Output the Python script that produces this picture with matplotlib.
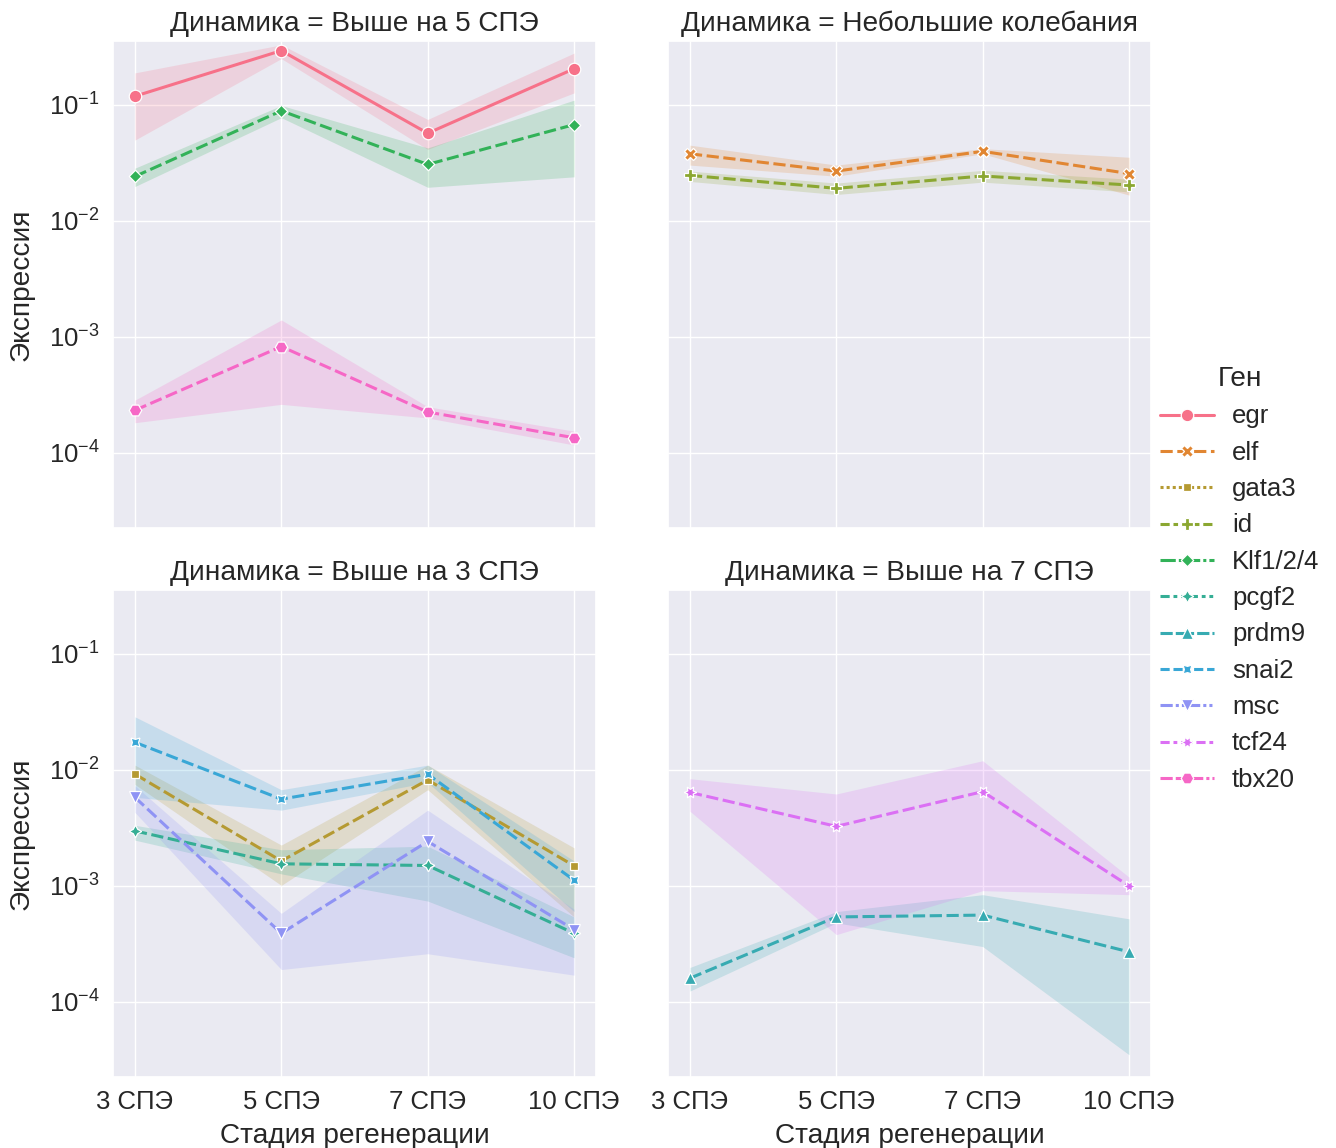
import matplotlib
matplotlib.use("Agg")
import matplotlib.pyplot as plt
from matplotlib.lines import Line2D
import seaborn as sns

sns.set_theme(style="darkgrid")
plt.rcParams["font.family"] = ["Liberation Sans", "DejaVu Sans"]

# Stages of regeneration (x categories)
stages = ["3 СПЭ", "5 СПЭ", "7 СПЭ", "10 СПЭ"]

# Genes in legend order
genes = ["egr", "elf", "gata3", "id", "Klf1/2/4", "pcgf2", "prdm9",
         "snai2", "msc", "tcf24", "tbx20"]

# Facet panels and the genes each one shows
panels = ["Выше на 5 СПЭ", "Небольшие колебания", "Выше на 3 СПЭ", "Выше на 7 СПЭ"]
panel_genes = {
    "Выше на 5 СПЭ": ["egr", "Klf1/2/4", "tbx20"],
    "Небольшие колебания": ["elf", "id"],
    "Выше на 3 СПЭ": ["gata3", "pcgf2", "snai2", "msc"],
    "Выше на 7 СПЭ": ["prdm9", "tcf24"],
}

# Mean expression per stage
egr_mean = [0.119, 0.294, 0.057, 0.205]
elf_mean = [0.0379, 0.0269, 0.0398, 0.0256]
gata3_mean = [0.0092, 0.00164, 0.0082, 0.00149]
id_mean = [0.0247, 0.0191, 0.0244, 0.0204]
klf_mean = [0.0242, 0.089, 0.0307, 0.0677]
pcgf2_mean = [0.00298, 0.00155, 0.0015, 0.00039]
prdm9_mean = [0.00016, 0.00054, 0.00056, 0.00027]
snai2_mean = [0.0173, 0.0056, 0.0092, 0.00112]
msc_mean = [0.0058, 0.00039, 0.00242, 0.00042]
tcf24_mean = [0.0064, 0.00326, 0.0065, 0.0010]
tbx20_mean = [0.000233, 0.000826, 0.000225, 0.000135]

# Lower bound of the confidence band
egr_lo = [0.0498, 0.251, 0.0414, 0.127]
elf_lo = [0.0303, 0.0243, 0.0379, 0.0167]
gata3_lo = [0.0075, 0.00101, 0.00675, 0.00054]
id_lo = [0.0219, 0.0169, 0.0216, 0.0178]
klf_lo = [0.0198, 0.0777, 0.0195, 0.024]
pcgf2_lo = [0.00248, 0.00127, 0.00074, 0.00024]
prdm9_lo = [0.000124, 0.00048, 0.0003, 0.000035]
snai2_lo = [0.0058, 0.0045, 0.0078, 0.0006]
msc_lo = [0.0043, 0.00019, 0.00026, 0.00017]
tcf24_lo = [0.0044, 0.00038, 0.00091, 0.00084]
tbx20_lo = [0.000182, 0.000262, 0.0002, 0.000117]

# Upper bound of the confidence band
egr_hi = [0.189, 0.33, 0.075, 0.28]
elf_hi = [0.045, 0.0303, 0.042, 0.0354]
gata3_hi = [0.011, 0.00225, 0.011, 0.00213]
id_hi = [0.0269, 0.0212, 0.0273, 0.0229]
klf_hi = [0.0285, 0.099, 0.0426, 0.11]
pcgf2_hi = [0.00333, 0.00205, 0.0022, 0.00054]
prdm9_hi = [0.000198, 0.0006, 0.00084, 0.00052]
snai2_hi = [0.0287, 0.00675, 0.011, 0.00164]
msc_hi = [0.0073, 0.00058, 0.0045, 0.00063]
tcf24_hi = [0.0084, 0.0062, 0.012, 0.00119]
tbx20_hi = [0.000285, 0.0014, 0.00025, 0.000154]

means = dict(zip(genes, [egr_mean, elf_mean, gata3_mean, id_mean, klf_mean, pcgf2_mean,
                         prdm9_mean, snai2_mean, msc_mean, tcf24_mean, tbx20_mean]))
lows = dict(zip(genes, [egr_lo, elf_lo, gata3_lo, id_lo, klf_lo, pcgf2_lo,
                        prdm9_lo, snai2_lo, msc_lo, tcf24_lo, tbx20_lo]))
highs = dict(zip(genes, [egr_hi, elf_hi, gata3_hi, id_hi, klf_hi, pcgf2_hi,
                         prdm9_hi, snai2_hi, msc_hi, tcf24_hi, tbx20_hi]))

colors = dict(zip(genes, sns.color_palette("husl", len(genes))))
markers = dict(zip(genes, ["o", "X", (4, 0, 45), "P", (4, 0, 0), (4, 1, 0), "^",
                           (4, 1, 45), "v", (6, 1, 30), (6, 0, 30)]))
legend_dashes = dict(zip(genes, [
    (None, None), (4, 1.5), (1, 1), (3, 1.25, 1.5, 1.25), (5, 1, 1, 1),
    (3, 1.25, 1.25, 1.25, 1.25, 1.25), (4, 1, 4, 1, 1, 1),
    (3, 1.25, 3, 1.25, 1.25, 1.25), (4, 1, 1, 1, 1, 1),
    (3, 1.25, 1.25, 1.25, 1.25, 1.25, 1.25, 1.25), (4, 1, 4, 1, 4, 1, 1, 1)]))

FS_TICK = 18.5
FS_LABEL = 20.2
LW = 2.2
MS = 9

fig = plt.figure(figsize=(13.36, 11.48), dpi=100)
W, H = 1336, 1148
col_x = [113, 668]
row_y = [41, 590]
aw, ah = 483, 487

axes = []
for i, panel in enumerate(panels):
    r, c = divmod(i, 2)
    rect = [col_x[c] / W, 1 - (row_y[r] + ah) / H, aw / W, ah / H]
    ax = fig.add_axes(rect, sharey=axes[0] if axes else None,
                      sharex=axes[0] if axes else None)
    axes.append(ax)
    xs = list(range(len(stages)))
    for g in panel_genes[panel]:
        col = colors[g]
        ax.fill_between(xs, lows[g], highs[g], color=col, alpha=0.2, lw=0)
        ls = "-" if g == "egr" else (0, (4, 1.5))
        ax.plot(xs, means[g], color=col, lw=LW, linestyle=ls,
                marker=markers[g], markersize=MS, markeredgecolor="w",
                markeredgewidth=0.9)
    ax.set_yscale("log")
    ax.set_title(f"Динамика = {panel}", fontsize=FS_LABEL, pad=7)
    ax.tick_params(labelsize=FS_TICK)
    ax.set_xticks(xs)
    ax.set_xticklabels(stages)
    if c == 0:
        ax.set_ylabel("Экспрессия", fontsize=FS_LABEL, labelpad=10)
    else:
        ax.tick_params(labelleft=False)
    if r == 1:
        ax.set_xlabel("Стадия регенерации", fontsize=FS_LABEL, labelpad=6)
    else:
        ax.tick_params(labelbottom=False)

axes[0].set_ylim(2.25e-5, 0.356)
axes[0].set_xlim(-0.15, 3.15)

handles = []
for g in genes:
    h = Line2D([], [], color=colors[g], lw=LW, marker=markers[g], markersize=MS,
               markeredgecolor="w", markeredgewidth=0.9)
    if g != "egr":
        h.set_dashes(legend_dashes[g])
    handles.append(h)

leg = fig.legend(handles, genes, title="Ген", loc="center left",
                 bbox_to_anchor=(1137 / W, 1 - 579 / H), frameon=False,
                 fontsize=FS_TICK, title_fontsize=FS_LABEL, labelspacing=0.48,
                 handlelength=2.1, handletextpad=0.7)

fig.savefig("out.png", dpi=100)
